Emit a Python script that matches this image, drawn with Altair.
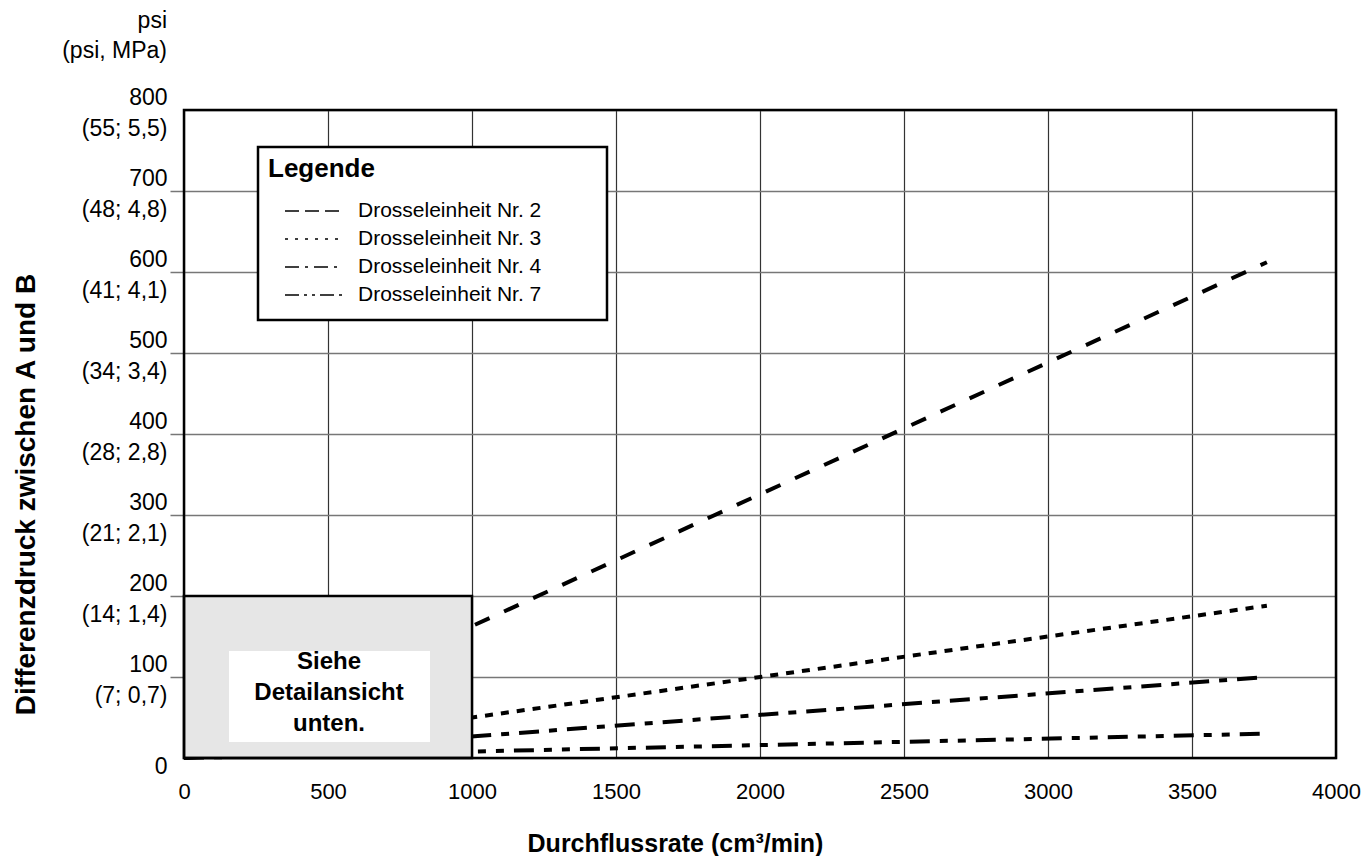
import json
import altair as alt
import pandas as pd

# ---------------- data ----------------
series = ["Drosseleinheit Nr. 2", "Drosseleinheit Nr. 3",
          "Drosseleinheit Nr. 4", "Drosseleinheit Nr. 7"]
flow_start = [0, 0, 0, 0]          # cm³/min
flow_end = [3760, 3760, 3760, 3760]
dp_start = [0, 0, 0, 0]            # psi
dp_end = [612, 188, 100, 30]

x_ticks = [0, 500, 1000, 1500, 2000, 2500, 3000, 3500, 4000]
y_ticks = [0, 100, 200, 300, 400, 500, 600, 700, 800]
y_mpa = ["", "(7; 0,7)", "(14; 1,4)", "(21; 2,1)", "(28; 2,8)",
         "(34; 3,4)", "(41; 4,1)", "(48; 4,8)", "(55; 5,5)"]

detail_flow = [0, 1000]
detail_dp = [0, 200]
note_lines = ["Siehe", "Detailansicht", "unten."]
unit_lines = ["psi", "(psi, MPa)"]

# ---------------- styles ----------------
FONT = "Liberation Sans"
W, H = 1152, 648
main_dash = [[16, 16], [8, 8], [20, 10, 8, 10], [20, 10, 8, 10, 8, 10]]
legend_dash = [[14, 6], [3, 7], [14, 6, 3, 6], [14, 5, 3, 5, 3, 5]]

rows = []
for s, x0, x1, y0, y1 in zip(series, flow_start, flow_end, dp_start, dp_end):
    rows.append({"serie": s, "flow": x0, "dp": y0})
    rows.append({"serie": s, "flow": x1, "dp": y1})
df = pd.DataFrame(rows)

xs = alt.Scale(domain=[x_ticks[0], x_ticks[-1]], nice=False)
ys = alt.Scale(domain=[y_ticks[0], y_ticks[-1]], nice=False)

label_expr = ("datum.value == 0 ? '0' : [datum.label, "
              + json.dumps(y_mpa) + "[round(datum.value / 100)]]")

x_axis = alt.Axis(values=x_ticks, title="Durchflussrate (cm³/min)", format="d",
                  ticks=False, tickSize=0, labelPadding=23, labelFontSize=22,
                  titleFontSize=25, titleFontWeight="bold", titleX=491, titleY=85,
                  titleBaseline="middle", domain=False, gridColor="#333",
                  gridWidth=1.2, labelFlush=False)
y_axis = alt.Axis(values=y_ticks, title="Differenzdruck zwischen A und B",
                  labelExpr=label_expr, labelLineHeight=31, labelBaseline="middle",
                  labelFontSize=23, tickSize=14, tickWidth=1.5,
                  labelOffset={"condition": {"test": "datum.value == 0", "value": 8},
                               "value": -13},
                  tickColor={"condition": {"test": "datum.value == 0 || datum.value == 800",
                                           "value": "transparent"}, "value": "#777"},
                  labelPadding=3, titleFontSize=28, titleFontWeight="bold",
                  titleX=-158, titleY=384, titleBaseline="middle", domain=False,
                  gridColor="#777", gridWidth=1.5, labelFlush=False)

lines = alt.Chart(df).mark_line(strokeWidth=4, strokeCap="butt", color="black").encode(
    x=alt.X("flow:Q", scale=xs, axis=x_axis),
    y=alt.Y("dp:Q", scale=ys, axis=y_axis),
    strokeDash=alt.StrokeDash("serie:N", scale=alt.Scale(domain=series, range=main_dash),
                              legend=None),
)

box_df = pd.DataFrame({"x0": [detail_flow[0]], "x1": [detail_flow[1]],
                       "y0": [detail_dp[0]], "y1": [detail_dp[1]]})
detail_box = alt.Chart(box_df).mark_rect(fill="#e6e6e6", stroke="black", strokeWidth=2.5).encode(
    x=alt.X("x0:Q", scale=xs), x2="x1", y=alt.Y("y0:Q", scale=ys), y2="y1")

one = pd.DataFrame({"a": [0]})
note_box = alt.Chart(one).mark_rect(fill="white").encode(
    x=alt.value(45), x2=alt.value(246), y=alt.value(541), y2=alt.value(632))
note_text = alt.Chart(one).mark_text(
    text=note_lines, font=FONT, fontSize=24, fontWeight="bold", lineHeight=31,
    align="center", baseline="middle", color="black").encode(
    x=alt.value(145), y=alt.value(552))

frame_df = pd.DataFrame({"x0": [x_ticks[0]], "x1": [x_ticks[-1]],
                         "y0": [y_ticks[0]], "y1": [y_ticks[-1]]})
frame = alt.Chart(frame_df).mark_rect(fill=None, stroke="black", strokeWidth=2.5).encode(
    x=alt.X("x0:Q", scale=xs), x2="x1", y=alt.Y("y0:Q", scale=ys), y2="y1")

legend_box = alt.Chart(one).mark_rect(fill="white", stroke="black", strokeWidth=2.5).encode(
    x=alt.value(74), x2=alt.value(423), y=alt.value(37), y2=alt.value(210))
legend_title = alt.Chart(one).mark_text(
    text="Legende", font=FONT, fontSize=26, fontWeight="bold", align="left",
    baseline="middle", color="black").encode(x=alt.value(84), y=alt.value(59))

legend_layers = []
for i, (s, dash) in enumerate(zip(series, legend_dash)):
    ypix = 101 + 28 * i
    d = pd.DataFrame({"serie": [s]})
    legend_layers.append(alt.Chart(d).mark_rule(strokeWidth=1.5, color="black",
                                               strokeDash=dash, strokeCap="butt").encode(
        x=alt.value(101), x2=alt.value(159), y=alt.value(ypix)))
    legend_layers.append(alt.Chart(d).mark_text(
        font=FONT, fontSize=21, align="left", baseline="middle", color="black").encode(
        text="serie:N", x=alt.value(174), y=alt.value(ypix)))

unit_text = alt.Chart(one).mark_text(
    text=unit_lines, font=FONT, fontSize=23, lineHeight=30, align="right",
    baseline="middle", color="black").encode(x=alt.value(-17), y=alt.value(-89))

chart = alt.layer(lines, detail_box, note_box, note_text, frame, legend_box, legend_title,
                  *legend_layers, unit_text).properties(
    width=W, height=H, background="white",
    padding={"left": 4, "top": 2, "right": 0, "bottom": 0}
).configure_view(stroke=None).configure_axis(
    labelFont=FONT, titleFont=FONT, labelColor="black", titleColor="black")

chart.save("out.html", embed_options={"renderer": "svg", "actions": False})
